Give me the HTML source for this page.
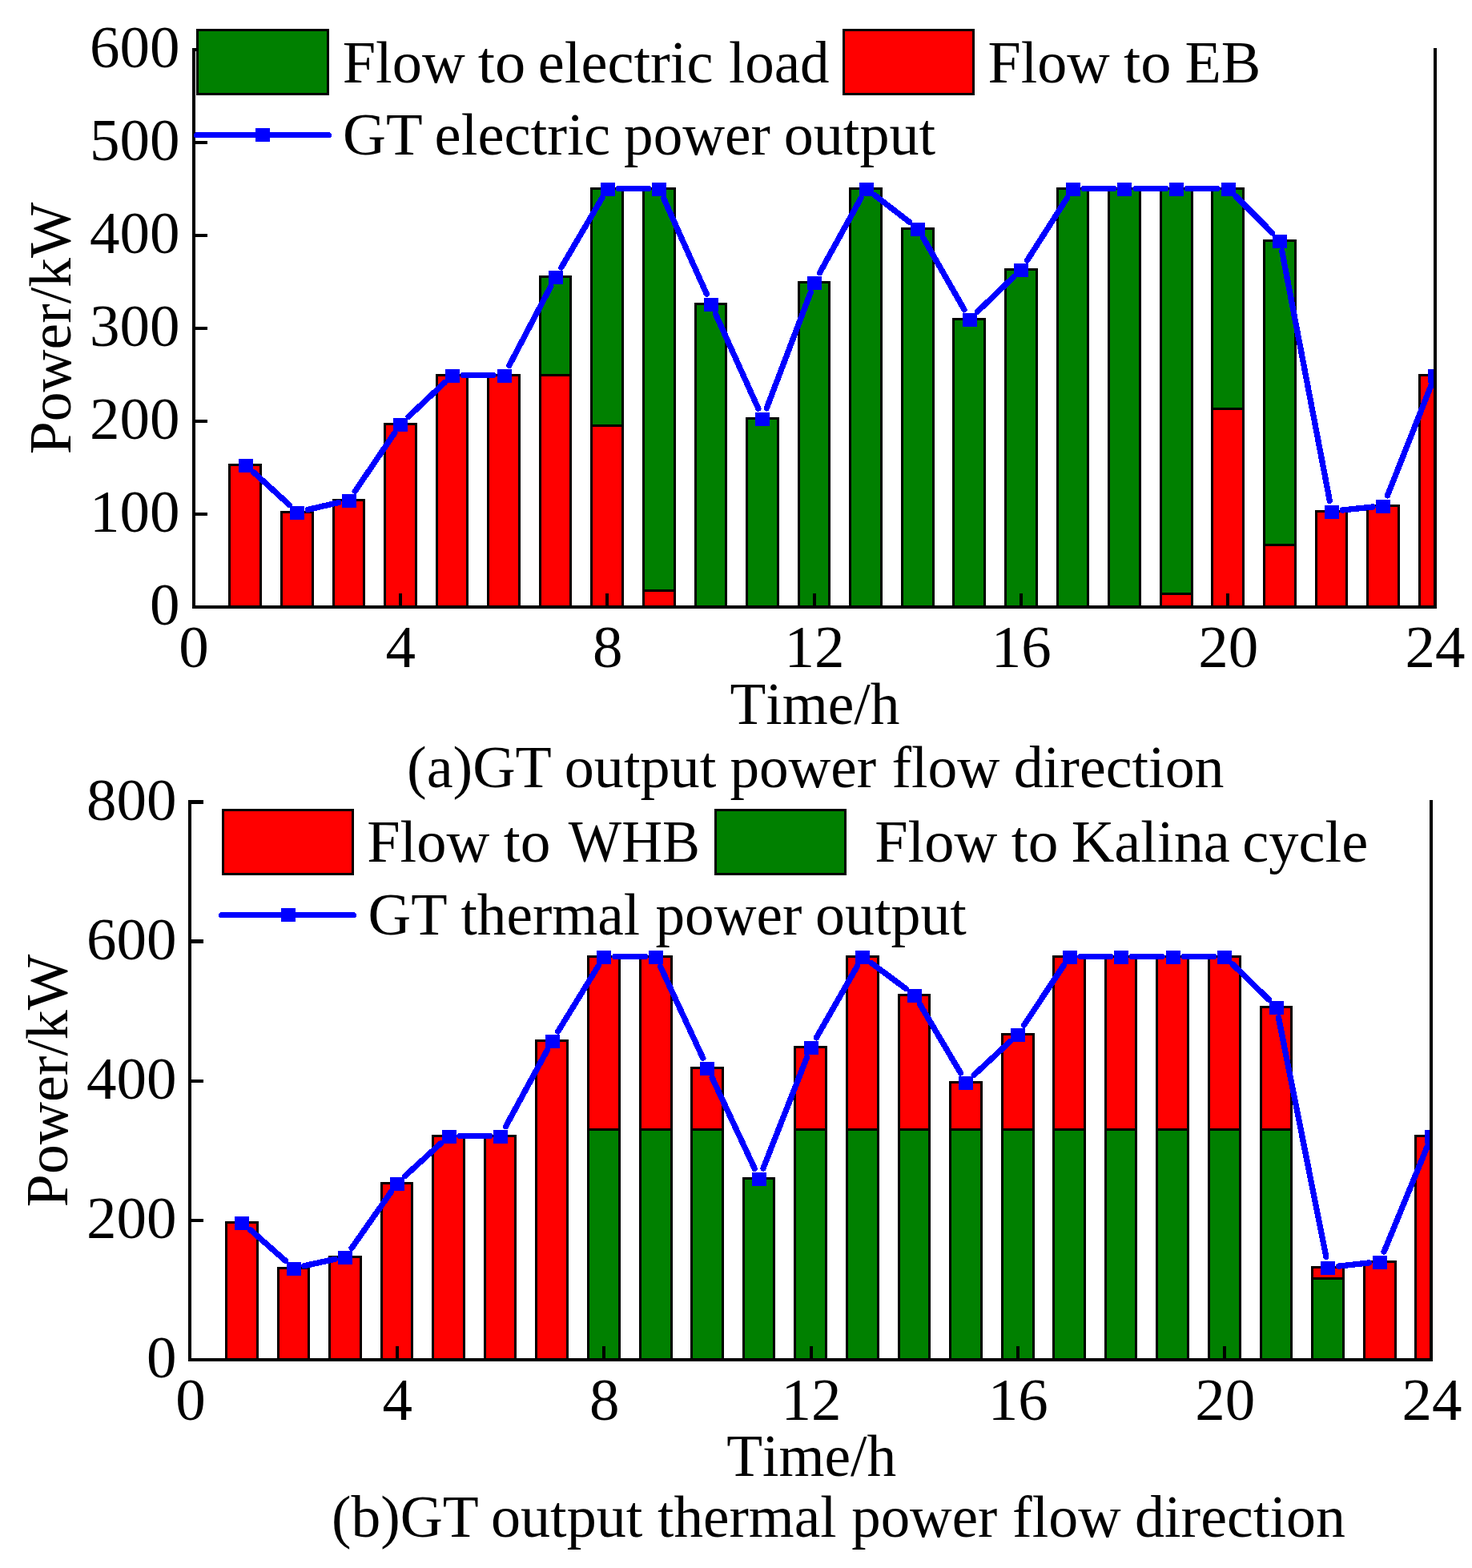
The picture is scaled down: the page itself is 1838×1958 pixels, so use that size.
<!DOCTYPE html>
<html lang="en">
<head>
<meta charset="utf-8">
<title>GT output power flow direction</title>
<style>
html,body{margin:0;padding:0;background:#fff;}
body{width:1838px;height:1958px;overflow:hidden;}
svg{display:block;}
text{font-family:"Liberation Serif",serif;font-size:75px;fill:#000;font-kerning:none;font-variant-ligatures:none;}
</style>
</head>
<body>
<svg width="1838" height="1958" viewBox="0 0 1838 1958">
<rect width="1838" height="1958" fill="#fff"/>
<clipPath id="ca"><rect x="242" y="22" width="1550" height="736"/></clipPath>
<g clip-path="url(#ca)" stroke="#000" stroke-width="3" shape-rendering="crispEdges">
<rect x="286.5" y="580.5" width="39" height="177.5" fill="#f00"/>
<rect x="351.5" y="639.5" width="39" height="118.5" fill="#f00"/>
<rect x="416.5" y="624.5" width="38" height="133.5" fill="#f00"/>
<rect x="480.5" y="529.5" width="39" height="228.5" fill="#f00"/>
<rect x="545.5" y="468.5" width="38" height="289.5" fill="#f00"/>
<rect x="609.5" y="468.5" width="39" height="289.5" fill="#f00"/>
<rect x="674.5" y="468.5" width="38" height="289.5" fill="#f00"/>
<rect x="674.5" y="345.5" width="38" height="123" fill="#008000"/>
<rect x="738.5" y="531.5" width="39" height="226.5" fill="#f00"/>
<rect x="738.5" y="235.5" width="39" height="296" fill="#008000"/>
<rect x="803.5" y="737.5" width="39" height="20.5" fill="#f00"/>
<rect x="803.5" y="235.5" width="39" height="502" fill="#008000"/>
<rect x="868.5" y="379.5" width="38" height="378.5" fill="#008000"/>
<rect x="932.5" y="522.5" width="39" height="235.5" fill="#008000"/>
<rect x="997.5" y="352.5" width="38" height="405.5" fill="#008000"/>
<rect x="1061.5" y="235.5" width="39" height="522.5" fill="#008000"/>
<rect x="1126.5" y="285.5" width="39" height="472.5" fill="#008000"/>
<rect x="1190.5" y="398.5" width="39" height="359.5" fill="#008000"/>
<rect x="1255.5" y="336.5" width="39" height="421.5" fill="#008000"/>
<rect x="1320.5" y="235.5" width="38" height="522.5" fill="#008000"/>
<rect x="1384.5" y="235.5" width="39" height="522.5" fill="#008000"/>
<rect x="1449.5" y="741.5" width="39" height="16.5" fill="#f00"/>
<rect x="1449.5" y="235.5" width="39" height="506" fill="#008000"/>
<rect x="1513.5" y="510.5" width="39" height="247.5" fill="#f00"/>
<rect x="1513.5" y="235.5" width="39" height="275" fill="#008000"/>
<rect x="1578.5" y="680.5" width="39" height="77.5" fill="#f00"/>
<rect x="1578.5" y="300.5" width="39" height="380" fill="#008000"/>
<rect x="1643.5" y="638.5" width="38" height="119.5" fill="#f00"/>
<rect x="1707.5" y="631.5" width="39" height="126.5" fill="#f00"/>
<rect x="1772.5" y="468.5" width="38" height="289.5" fill="#f00"/>
</g>
<g clip-path="url(#ca)">
<path fill="none" stroke="#00f" stroke-width="7.3" stroke-linecap="round" shape-rendering="crispEdges" d="M316.55 589.61L361.2 630.39M384.32 636.45L422.6 627.55M443.34 613.34L492.74 540.66M510.15 520.23L555.1 477.77M578.42 468.5L616 468.5M635.78 456.55L687.81 357.45M700.92 333.86L751.83 247.14M772.17 235.5L809.75 235.5M828.77 247.82L882.31 367.18M893.39 391.8L946.86 510.2M957.21 509.88L1012.21 365.12M1023.52 340.68L1075.06 247.32M1092.26 243.76L1135.49 277.24M1152.87 297.22L1204.05 386.78M1220.49 389.15L1265.59 345.85M1282.61 325.13L1332.64 246.87M1353.42 235.5L1391 235.5M1418 235.5L1455.58 235.5M1482.58 235.5L1520.17 235.5M1543.18 245.08L1588.73 290.92M1600.78 313.76L1660.3 625.24M1676.25 637.05L1714 632.95M1732.39 618.95L1787.03 481.05"/>
<g fill="#00f" shape-rendering="crispEdges">
<rect x="298" y="573" width="18" height="17"/>
<rect x="362" y="632" width="18" height="17"/>
<rect x="427" y="617" width="18" height="17"/>
<rect x="491" y="522" width="18" height="17"/>
<rect x="556" y="461" width="18" height="17"/>
<rect x="621" y="461" width="18" height="17"/>
<rect x="685" y="338" width="18" height="17"/>
<rect x="750" y="228" width="18" height="17"/>
<rect x="814" y="228" width="18" height="17"/>
<rect x="879" y="372" width="18" height="17"/>
<rect x="943" y="515" width="18" height="17"/>
<rect x="1008" y="345" width="18" height="17"/>
<rect x="1073" y="228" width="18" height="17"/>
<rect x="1137" y="278" width="18" height="17"/>
<rect x="1202" y="391" width="18" height="17"/>
<rect x="1266" y="329" width="18" height="17"/>
<rect x="1331" y="228" width="18" height="17"/>
<rect x="1395" y="228" width="18" height="17"/>
<rect x="1460" y="228" width="18" height="17"/>
<rect x="1525" y="228" width="18" height="17"/>
<rect x="1589" y="293" width="18" height="17"/>
<rect x="1654" y="631" width="18" height="17"/>
<rect x="1718" y="624" width="18" height="17"/>
<rect x="1783" y="461" width="18" height="17"/>
</g></g>
<g fill="#000" shape-rendering="crispEdges">
<rect x="240" y="60" width="4" height="700"/>
<rect x="1790" y="60" width="4" height="700"/>
<rect x="240" y="756" width="1554" height="4"/>
<rect x="244" y="640" width="15" height="4"/>
<rect x="244" y="524" width="15" height="4"/>
<rect x="244" y="408" width="15" height="4"/>
<rect x="244" y="292" width="15" height="4"/>
<rect x="244" y="176" width="15" height="4"/>
<rect x="244" y="60" width="15" height="4"/>
<rect x="498" y="741" width="4" height="15"/>
<rect x="756" y="741" width="4" height="15"/>
<rect x="1015" y="741" width="4" height="15"/>
<rect x="1273" y="741" width="4" height="15"/>
<rect x="1531" y="741" width="4" height="15"/>
</g>
<g text-anchor="end">
<text x="224.5" y="780">0</text>
<text x="224.5" y="664">100</text>
<text x="224.5" y="548">200</text>
<text x="224.5" y="432">300</text>
<text x="224.5" y="316">400</text>
<text x="224.5" y="200">500</text>
<text x="224.5" y="84">600</text>
</g>
<g text-anchor="middle">
<text x="242" y="833">0</text>
<text x="500.33" y="833">4</text>
<text x="758.67" y="833">8</text>
<text x="1017" y="833">12</text>
<text x="1275.33" y="833">16</text>
<text x="1533.67" y="833">20</text>
<text x="1792" y="833">24</text>
</g>
<rect x="246.5" y="37.5" width="163" height="80" fill="#008000" stroke="#000" stroke-width="3" shape-rendering="crispEdges"/>
<rect x="1053.5" y="37.5" width="162" height="80" fill="#f00" stroke="#000" stroke-width="3" shape-rendering="crispEdges"/>
<line x1="245.5" y1="168.5" x2="410.5" y2="168.5" stroke="#00f" stroke-width="7" stroke-linecap="round" shape-rendering="crispEdges"/><rect x="319" y="160.0" width="18" height="17" fill="#00f" shape-rendering="crispEdges"/>
<text y="103"><tspan x="427.7" textLength="153.0" lengthAdjust="spacingAndGlyphs">Flow</tspan> <tspan x="596.8" textLength="59.5" lengthAdjust="spacingAndGlyphs">to</tspan> <tspan x="671.8" textLength="218.7" lengthAdjust="spacingAndGlyphs">electric</tspan> <tspan x="909.9" textLength="125.6" lengthAdjust="spacingAndGlyphs">load</tspan></text>
<text y="103"><tspan x="1233.5" textLength="152.3" lengthAdjust="spacingAndGlyphs">Flow</tspan> <tspan x="1402.9" textLength="59.5" lengthAdjust="spacingAndGlyphs">to</tspan> <tspan x="1479.4" textLength="94.9" lengthAdjust="spacingAndGlyphs">EB</tspan></text>
<text y="193"><tspan x="428.0" textLength="99.6" lengthAdjust="spacingAndGlyphs">GT</tspan> <tspan x="542.6" textLength="219.4" lengthAdjust="spacingAndGlyphs">electric</tspan> <tspan x="779.1" textLength="182.8" lengthAdjust="spacingAndGlyphs">power</tspan> <tspan x="978.7" textLength="189.5" lengthAdjust="spacingAndGlyphs">output</tspan></text>
<text transform="translate(88.3,567.15) rotate(-90)" textLength="314.5" lengthAdjust="spacingAndGlyphs">Power/kW</text>
<text y="904"><tspan x="911.5" textLength="211.9" lengthAdjust="spacingAndGlyphs">Time/h</tspan></text>
<text y="983"><tspan x="508.0" textLength="180.8" lengthAdjust="spacingAndGlyphs">(a)GT</tspan> <tspan x="704.8" textLength="189.5" lengthAdjust="spacingAndGlyphs">output</tspan> <tspan x="911.4" textLength="182.8" lengthAdjust="spacingAndGlyphs">power</tspan> <tspan x="1113.5" textLength="134.8" lengthAdjust="spacingAndGlyphs">flow</tspan> <tspan x="1265.8" textLength="262.8" lengthAdjust="spacingAndGlyphs">direction</tspan></text>
<clipPath id="cb"><rect x="237" y="961" width="1550" height="737"/></clipPath>
<g clip-path="url(#cb)" stroke="#000" stroke-width="3" shape-rendering="crispEdges">
<rect x="282.5" y="1526.5" width="39" height="171.5" fill="#f00"/>
<rect x="347.5" y="1583.5" width="38" height="114.5" fill="#f00"/>
<rect x="411.5" y="1569.5" width="39" height="128.5" fill="#f00"/>
<rect x="476.5" y="1477.5" width="38" height="220.5" fill="#f00"/>
<rect x="540.5" y="1418.5" width="39" height="279.5" fill="#f00"/>
<rect x="605.5" y="1418.5" width="38" height="279.5" fill="#f00"/>
<rect x="669.5" y="1299.5" width="39" height="398.5" fill="#f00"/>
<rect x="734.5" y="1410.5" width="39" height="287.5" fill="#008000"/>
<rect x="734.5" y="1194.5" width="39" height="216" fill="#f00"/>
<rect x="799.5" y="1410.5" width="39" height="287.5" fill="#008000"/>
<rect x="799.5" y="1194.5" width="39" height="216" fill="#f00"/>
<rect x="863.5" y="1410.5" width="39" height="287.5" fill="#008000"/>
<rect x="863.5" y="1333.5" width="39" height="77" fill="#f00"/>
<rect x="928.5" y="1471.5" width="38" height="226.5" fill="#008000"/>
<rect x="992.5" y="1410.5" width="39" height="287.5" fill="#008000"/>
<rect x="992.5" y="1307.5" width="39" height="103" fill="#f00"/>
<rect x="1057.5" y="1410.5" width="39" height="287.5" fill="#008000"/>
<rect x="1057.5" y="1194.5" width="39" height="216" fill="#f00"/>
<rect x="1122.5" y="1410.5" width="38" height="287.5" fill="#008000"/>
<rect x="1122.5" y="1242.5" width="38" height="168" fill="#f00"/>
<rect x="1186.5" y="1410.5" width="39" height="287.5" fill="#008000"/>
<rect x="1186.5" y="1351.5" width="39" height="59" fill="#f00"/>
<rect x="1251.5" y="1410.5" width="39" height="287.5" fill="#008000"/>
<rect x="1251.5" y="1291.5" width="39" height="119" fill="#f00"/>
<rect x="1315.5" y="1410.5" width="39" height="287.5" fill="#008000"/>
<rect x="1315.5" y="1194.5" width="39" height="216" fill="#f00"/>
<rect x="1380.5" y="1410.5" width="38" height="287.5" fill="#008000"/>
<rect x="1380.5" y="1194.5" width="38" height="216" fill="#f00"/>
<rect x="1444.5" y="1410.5" width="39" height="287.5" fill="#008000"/>
<rect x="1444.5" y="1194.5" width="39" height="216" fill="#f00"/>
<rect x="1509.5" y="1410.5" width="39" height="287.5" fill="#008000"/>
<rect x="1509.5" y="1194.5" width="39" height="216" fill="#f00"/>
<rect x="1574.5" y="1410.5" width="38" height="287.5" fill="#008000"/>
<rect x="1574.5" y="1257.5" width="38" height="153" fill="#f00"/>
<rect x="1638.5" y="1596.5" width="39" height="101.5" fill="#008000"/>
<rect x="1638.5" y="1582.5" width="39" height="14" fill="#f00"/>
<rect x="1703.5" y="1575.5" width="39" height="122.5" fill="#f00"/>
<rect x="1767.5" y="1418.5" width="39" height="279.5" fill="#f00"/>
</g>
<g clip-path="url(#cb)">
<path fill="none" stroke="#00f" stroke-width="7.3" stroke-linecap="round" shape-rendering="crispEdges" d="M312.31 1535.43L356.64 1574.57M379.96 1580.64L418.16 1572.36M439.11 1558.45L488.18 1488.55M505.9 1468.39L550.55 1427.61M574.02 1418.5L611.6 1418.5M631.54 1406.63L683.24 1311.37M696.76 1288L747.19 1206M767.77 1194.5L805.35 1194.5M824.54 1206.74L877.74 1321.26M889.16 1345.73L942.29 1459.27M952.96 1458.94L1007.65 1320.06M1019.3 1295.78L1070.48 1206.22M1088.02 1202.55L1130.93 1234.45M1148.65 1254.11L1199.47 1339.89M1216.24 1342.31L1261.04 1300.69M1278.42 1280.26L1328.03 1205.74M1349.02 1194.5L1386.6 1194.5M1413.6 1194.5L1451.18 1194.5M1478.18 1194.5L1515.77 1194.5M1538.93 1203.93L1584.19 1248.07M1596.48 1270.74L1655.8 1569.26M1671.85 1581.05L1709.6 1576.95M1728.15 1563.02L1782.46 1430.98"/>
<g fill="#00f" shape-rendering="crispEdges">
<rect x="293" y="1519" width="18" height="17"/>
<rect x="358" y="1576" width="18" height="17"/>
<rect x="422" y="1562" width="18" height="17"/>
<rect x="487" y="1470" width="18" height="17"/>
<rect x="552" y="1411" width="18" height="17"/>
<rect x="616" y="1411" width="18" height="17"/>
<rect x="681" y="1292" width="18" height="17"/>
<rect x="745" y="1187" width="18" height="17"/>
<rect x="810" y="1187" width="18" height="17"/>
<rect x="874" y="1326" width="18" height="17"/>
<rect x="939" y="1464" width="18" height="17"/>
<rect x="1004" y="1300" width="18" height="17"/>
<rect x="1068" y="1187" width="18" height="17"/>
<rect x="1133" y="1235" width="18" height="17"/>
<rect x="1197" y="1344" width="18" height="17"/>
<rect x="1262" y="1284" width="18" height="17"/>
<rect x="1327" y="1187" width="18" height="17"/>
<rect x="1391" y="1187" width="18" height="17"/>
<rect x="1456" y="1187" width="18" height="17"/>
<rect x="1520" y="1187" width="18" height="17"/>
<rect x="1585" y="1250" width="18" height="17"/>
<rect x="1649" y="1575" width="18" height="17"/>
<rect x="1714" y="1568" width="18" height="17"/>
<rect x="1779" y="1411" width="18" height="17"/>
</g></g>
<g fill="#000" shape-rendering="crispEdges">
<rect x="235" y="999" width="4" height="701"/>
<rect x="1785" y="999" width="4" height="701"/>
<rect x="235" y="1696" width="1554" height="4"/>
<rect x="239" y="1522" width="15" height="4"/>
<rect x="239" y="1348" width="15" height="4"/>
<rect x="239" y="1173" width="15" height="5"/>
<rect x="239" y="999" width="15" height="5"/>
<rect x="494" y="1681" width="4" height="15"/>
<rect x="752" y="1681" width="4" height="15"/>
<rect x="1011" y="1681" width="4" height="15"/>
<rect x="1269" y="1681" width="4" height="15"/>
<rect x="1527" y="1681" width="4" height="15"/>
</g>
<g text-anchor="end">
<text x="220.5" y="1720">0</text>
<text x="220.5" y="1546">200</text>
<text x="220.5" y="1372">400</text>
<text x="220.5" y="1198">600</text>
<text x="220.5" y="1024">800</text>
</g>
<g text-anchor="middle">
<text x="238" y="1773">0</text>
<text x="496.33" y="1773">4</text>
<text x="754.67" y="1773">8</text>
<text x="1013" y="1773">12</text>
<text x="1271.33" y="1773">16</text>
<text x="1529.67" y="1773">20</text>
<text x="1788" y="1773">24</text>
</g>
<rect x="278.5" y="1011.5" width="162" height="80" fill="#f00" stroke="#000" stroke-width="3" shape-rendering="crispEdges"/>
<rect x="893.5" y="1011.5" width="162" height="80" fill="#008000" stroke="#000" stroke-width="3" shape-rendering="crispEdges"/>
<line x1="276.5" y1="1142.5" x2="441.5" y2="1142.5" stroke="#00f" stroke-width="7" stroke-linecap="round" shape-rendering="crispEdges"/><rect x="351" y="1134.0" width="18" height="17" fill="#00f" shape-rendering="crispEdges"/>
<text y="1076"><tspan x="458.2" textLength="153.0" lengthAdjust="spacingAndGlyphs">Flow</tspan> <tspan x="628.8" textLength="58.7" lengthAdjust="spacingAndGlyphs">to</tspan> <tspan x="709.8" textLength="164.1" lengthAdjust="spacingAndGlyphs">WHB</tspan></text>
<text y="1076"><tspan x="1092.2" textLength="153.0" lengthAdjust="spacingAndGlyphs">Flow</tspan> <tspan x="1262.7" textLength="58.7" lengthAdjust="spacingAndGlyphs">to</tspan> <tspan x="1337.7" textLength="198.1" lengthAdjust="spacingAndGlyphs">Kalina</tspan> <tspan x="1551.2" textLength="157.0" lengthAdjust="spacingAndGlyphs">cycle</tspan></text>
<text y="1167"><tspan x="459.6" textLength="98.9" lengthAdjust="spacingAndGlyphs">GT</tspan> <tspan x="575.5" textLength="223.5" lengthAdjust="spacingAndGlyphs">thermal</tspan> <tspan x="818.5" textLength="182.8" lengthAdjust="spacingAndGlyphs">power</tspan> <tspan x="1018.1" textLength="188.8" lengthAdjust="spacingAndGlyphs">output</tspan></text>
<text transform="translate(84.4,1507.15) rotate(-90)" textLength="315.5" lengthAdjust="spacingAndGlyphs">Power/kW</text>
<text y="1843"><tspan x="907.2" textLength="211.9" lengthAdjust="spacingAndGlyphs">Time/h</tspan></text>
<text y="1919"><tspan x="414.0" textLength="183.8" lengthAdjust="spacingAndGlyphs">(b)GT</tspan> <tspan x="612.9" textLength="189.5" lengthAdjust="spacingAndGlyphs">output</tspan> <tspan x="821.1" textLength="223.4" lengthAdjust="spacingAndGlyphs">thermal</tspan> <tspan x="1063.3" textLength="182.0" lengthAdjust="spacingAndGlyphs">power</tspan> <tspan x="1264.1" textLength="135.5" lengthAdjust="spacingAndGlyphs">flow</tspan> <tspan x="1417.1" textLength="262.8" lengthAdjust="spacingAndGlyphs">direction</tspan></text>
</svg>
</body>
</html>
